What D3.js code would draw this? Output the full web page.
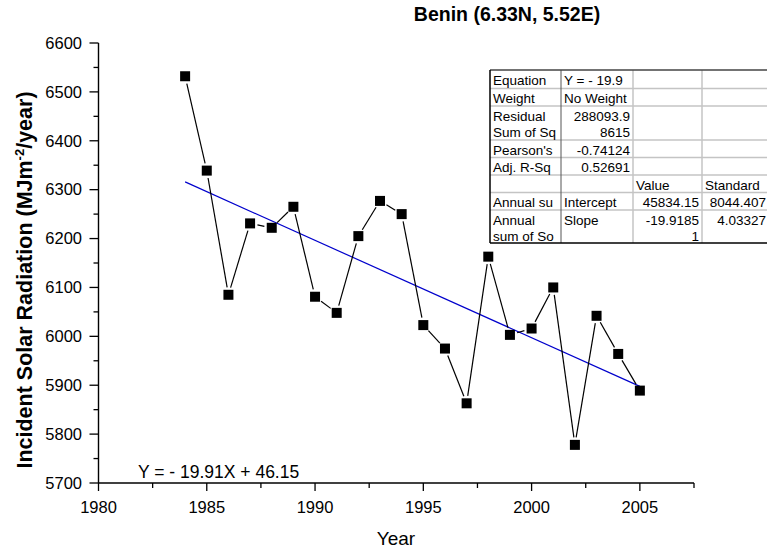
<!DOCTYPE html>
<html>
<head>
<meta charset="utf-8">
<script src="https://cdn.jsdelivr.net/npm/d3@7"></script>
<style>
  html, body { margin: 0; padding: 0; background: #fff; }
  svg { display: block; font-family: "Liberation Sans", Arial, sans-serif; }
</style>
</head>
<body>
<svg id="chart" width="767" height="552"></svg>
<script>
// Annual incident solar radiation, Benin
const years = [1984, 1985, 1986, 1987, 1988, 1989, 1990, 1991, 1992, 1993, 1994,
               1995, 1996, 1997, 1998, 1999, 2000, 2001, 2002, 2003, 2004, 2005];
const radiation = [6532, 6339, 6085, 6231, 6222, 6265, 6081, 6048, 6205, 6277, 6250,
                   6023, 5975, 5863, 6163, 6003, 6016, 6100, 5778, 6042, 5964, 5889];

// Linear fit
const fitIntercept = 45834.15;
const fitSlope = -19.9185;

const xTicks = [1980, 1985, 1990, 1995, 2000, 2005];
const yTicks = [5700, 5800, 5900, 6000, 6100, 6200, 6300, 6400, 6500, 6600];

// Fit statistics table: rows of cells (lines of text, "r" = right aligned)
const tableColumns = [490, 561, 633, 702, 769];
const tableRows = [70, 88.5, 106, 140, 157.5, 175, 192.5, 210, 243];
const tableCells = [
  [["Equation"], ["Y = - 19.9"], [""], [""]],
  [["Weight"], ["No Weight"], [""], [""]],
  [["Residual", "Sum of Sq"], ["288093.9", "8615", "r"], [""], [""]],
  [["Pearson's"], ["-0.74124", "r"], [""], [""]],
  [["Adj. R-Sq"], ["0.52691", "r"], [""], [""]],
  [[""], [""], ["Value"], ["Standard"]],
  [["Annual su"], ["Intercept"], ["45834.15", "r"], ["8044.407", "r"]],
  [["Annual", "sum of So"], ["Slope"], ["-19.9185", "1", "r"], ["4.03327", "r"]]
];

const svg = d3.select("#chart");

const x = d3.scaleLinear().domain([1980, 2007.5]).range([98.5, 694]);
const y = d3.scaleLinear().domain([5700, 6600]).range([483, 43]);

// Axes with major and minor ticks
const axisG = svg.append("g");
const minorX = d3.range(1982.5, 2008, 5);
const minorY = d3.range(5750, 6600, 100);

axisG.append("line").attr("x1", x.range()[0]).attr("x2", x.range()[1])
  .attr("y1", y(5700)).attr("y2", y(5700)).attr("stroke", "#000").attr("stroke-width", 1.4);
axisG.append("line").attr("x1", x(1980)).attr("x2", x(1980))
  .attr("y1", y(5700)).attr("y2", y(6600)).attr("stroke", "#000").attr("stroke-width", 1.4);

axisG.selectAll(".xt").data(xTicks).join("line")
  .attr("x1", d => x(d)).attr("x2", d => x(d))
  .attr("y1", y(5700)).attr("y2", y(5700) + 8).attr("stroke", "#000").attr("stroke-width", 1.3);
axisG.selectAll(".xm").data(minorX).join("line")
  .attr("x1", d => x(d)).attr("x2", d => x(d))
  .attr("y1", y(5700)).attr("y2", y(5700) + 5).attr("stroke", "#000").attr("stroke-width", 1.3);
axisG.selectAll(".yt").data(yTicks).join("line")
  .attr("x1", x(1980) - 9).attr("x2", x(1980))
  .attr("y1", d => y(d)).attr("y2", d => y(d)).attr("stroke", "#000").attr("stroke-width", 1.3);
axisG.selectAll(".ym").data(minorY).join("line")
  .attr("x1", x(1980) - 5).attr("x2", x(1980))
  .attr("y1", d => y(d)).attr("y2", d => y(d)).attr("stroke", "#000").attr("stroke-width", 1.3);

axisG.selectAll(".xl").data(xTicks).join("text")
  .attr("x", d => x(d)).attr("y", 513)
  .attr("text-anchor", "middle").attr("font-size", 16.5).text(d => d);
axisG.selectAll(".yl").data(yTicks).join("text")
  .attr("x", 82).attr("y", d => y(d)).attr("dy", "0.35em")
  .attr("text-anchor", "end").attr("font-size", 16.5).text(d => d);

// Axis titles
svg.append("text").attr("x", 396).attr("y", 545).attr("text-anchor", "middle")
  .attr("font-size", 19).text("Year");

const yTitle = svg.append("text")
  .attr("transform", "translate(32,280) rotate(-90)")
  .attr("text-anchor", "middle").attr("font-size", 21.5).attr("font-weight", "bold");
yTitle.append("tspan").text("Incident Solar Radiation (MJm");
yTitle.append("tspan").attr("dy", -8).attr("font-size", 13).text("-2");
yTitle.append("tspan").attr("dy", 8).text("/year)");

svg.append("text").attr("x", 507).attr("y", 21).attr("text-anchor", "middle")
  .attr("font-size", 19.5).attr("font-weight", "bold").text("Benin (6.33N, 5.52E)");

// Fit line
svg.append("line")
  .attr("x1", x(years[0])).attr("y1", y(fitIntercept + fitSlope * years[0]))
  .attr("x2", x(years[years.length - 1])).attr("y2", y(fitIntercept + fitSlope * years[years.length - 1]))
  .attr("stroke", "#0000cc").attr("stroke-width", 1.2);

// Connecting segments, stopping short of the symbols
const pts = years.map((yr, i) => [x(yr), y(radiation[i])]);
const gap = 7.5;
const segs = d3.pairs(pts).map(([a, b]) => {
  const dx = b[0] - a[0], dy = b[1] - a[1];
  const len = Math.hypot(dx, dy);
  const ux = dx / len, uy = dy / len;
  return [a[0] + ux * gap, a[1] + uy * gap, b[0] - ux * gap, b[1] - uy * gap, len];
}).filter(s => s[4] > 2 * gap);
svg.append("g").selectAll("line").data(segs).join("line")
  .attr("x1", s => s[0]).attr("y1", s => s[1]).attr("x2", s => s[2]).attr("y2", s => s[3])
  .attr("stroke", "#000").attr("stroke-width", 1.2);

// Square symbols
const sz = 10;
svg.append("g").selectAll("rect").data(years).join("rect")
  .attr("x", (d) => x(d) - sz / 2)
  .attr("y", (d, i) => y(radiation[i]) - sz / 2)
  .attr("width", sz).attr("height", sz).attr("fill", "#000");

// Equation label
svg.append("text").attr("x", 138).attr("y", 478).attr("font-size", 17.5)
  .text("Y = - 19.91X + 46.15");

// Statistics table
const tbl = svg.append("g").attr("font-size", 13.5);
tbl.append("rect").attr("x", tableColumns[0]).attr("y", tableRows[0])
  .attr("width", 780 - tableColumns[0])
  .attr("height", tableRows[tableRows.length - 1] - tableRows[0]).attr("fill", "#fff");

const defs = svg.append("defs");
tableColumns.slice(0, 3).forEach((cx, ci) => {
  defs.append("clipPath").attr("id", "col" + ci).append("rect")
    .attr("x", cx + 1).attr("y", tableRows[0])
    .attr("width", tableColumns[ci + 1] - cx - 2)
    .attr("height", tableRows[tableRows.length - 1] - tableRows[0]);
});

// inner grid
tbl.selectAll(".hg").data(tableRows.slice(1, -1)).join("line")
  .attr("x1", tableColumns[0]).attr("x2", 780)
  .attr("y1", d => d).attr("y2", d => d).attr("stroke", "#c4c4c4").attr("stroke-width", 1.5);
tbl.selectAll(".vg").data(tableColumns.slice(2, 4)).join("line")
  .attr("x1", d => d).attr("x2", d => d)
  .attr("y1", tableRows[0]).attr("y2", tableRows[tableRows.length - 1])
  .attr("stroke", "#c4c4c4").attr("stroke-width", 1.5);
tbl.append("line").attr("x1", tableColumns[1]).attr("x2", tableColumns[1])
  .attr("y1", tableRows[0]).attr("y2", tableRows[tableRows.length - 1])
  .attr("stroke", "#555").attr("stroke-width", 1);
// outer border
tbl.append("line").attr("x1", tableColumns[0]).attr("x2", 780)
  .attr("y1", tableRows[0]).attr("y2", tableRows[0]).attr("stroke", "#444").attr("stroke-width", 1.5);
tbl.append("line").attr("x1", tableColumns[0]).attr("x2", 780)
  .attr("y1", tableRows[tableRows.length - 1]).attr("y2", tableRows[tableRows.length - 1])
  .attr("stroke", "#000").attr("stroke-width", 1.5);
tbl.append("line").attr("x1", tableColumns[0]).attr("x2", tableColumns[0])
  .attr("y1", tableRows[0]).attr("y2", tableRows[tableRows.length - 1])
  .attr("stroke", "#000").attr("stroke-width", 1.5);

tableCells.forEach((row, ri) => {
  const top = tableRows[ri];
  row.forEach((cell, ci) => {
    const right = cell[cell.length - 1] === "r";
    const lines = right ? cell.slice(0, -1) : cell;
    lines.forEach((t, li) => {
      if (!t) return;
      const txt = tbl.append("text")
        .attr("x", right ? tableColumns[ci + 1] - 3 : tableColumns[ci] + 3)
        .attr("y", top + 14.5 + li * 16.5)
        .attr("text-anchor", right ? "end" : "start")
        .text(t);
      if (ci < 3) txt.attr("clip-path", `url(#col${ci})`);
    });
  });
});
</script>
</body>
</html>
